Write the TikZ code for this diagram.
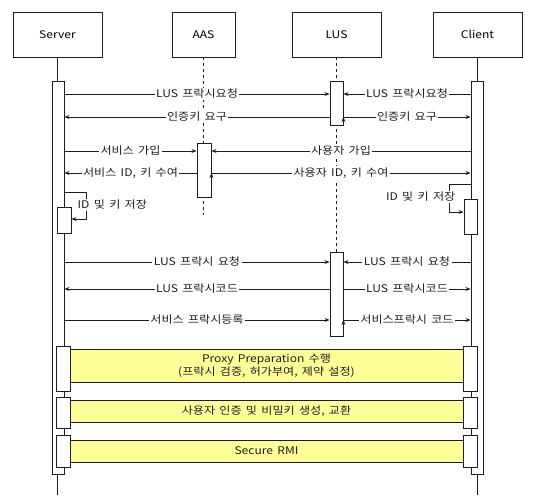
\documentclass[tikz,border=0pt]{standalone}
\usepackage{fontspec}
\setmainfont[FakeStretch=1.15, WordSpace=1.6]{Noto Sans CJK KR}
\usepackage{tikz}
\usetikzlibrary{
    positioning,
    arrows.meta
}
\definecolor{banda}{RGB}{255,255,153}
\definecolor{linea}{RGB}{30,30,30}
\tikzset{
    >={Stealth[length=5pt,width=4pt]},
    objeto/.style={
        draw=linea,
        line width=0.9pt,
        minimum height=45,
        inner sep=0pt,
        font=\fontsize{10.5}{12}\selectfont
    },
    activo/.style={
        draw=linea,
        line width=0.9pt,
        fill=white,
        inner sep=0pt
    },
    msj/.style={
        ->,
        draw=linea,
        line width=0.8pt
    },
    etiq/.style={
        fill=white,
        inner sep=1.5pt,
        text=linea,
        font=\fontsize{10.5}{11}\selectfont
    },
    tarea/.style={
        draw=linea,
        line width=0.8pt,
        fill=banda,
        inner sep=0pt,
        minimum width=393,
        align=center,
        text=linea,
        font=\fontsize{10.5}{13}\selectfont
    }
}

\begin{document}
\begin{tikzpicture}[
    x=1pt,
    y=-1pt
]
    \useasboundingbox (0,0) rectangle (534,495);

    % Objetos
    \node[objeto, minimum width=89] (srv) at (57.5,34.5)  {Server};
    \node[objeto, minimum width=63] (aas) at (203.5,34.5) {AAS};
    \node[objeto, minimum width=89] (lus) at (336.5,34.5) {LUS};
    \node[objeto, minimum width=89] (cli) at (477.5,34.5) {Client};

    % Lineas de vida
    \draw[linea, line width=0.8pt] (srv.south) -- (srv.south |- 0,495);
    \draw[linea, line width=0.8pt] (cli.south) -- (cli.south |- 0,495);
    \draw[linea, line width=0.8pt, dashed] (aas.south) -- (aas.south |- 0,215);
    \draw[linea, line width=0.8pt, dashed] (lus.south) -- (lus.south |- 0,336);

    % Activaciones
    \node[activo, minimum width=12, minimum height=393] (sact) at (58,277.5)   {};
    \node[activo, minimum width=12, minimum height=393] (cact) at (477,277.5)  {};
    \node[activo, minimum width=13, minimum height=44]  (lus1) at (336.5,103)  {};
    \node[activo, minimum width=13, minimum height=84]  (lus2) at (336.5,294)  {};
    \node[activo, minimum width=14, minimum height=54]  (aasa) at (204,170)    {};
    \node[activo, minimum width=14, minimum height=26]  (sguar) at (64,220)    {};
    \node[activo, minimum width=13, minimum height=35]  (cguar) at (470.5,216.5) {};

    % Alturas de los mensajes
    \coordinate (m1) at (0,94);
    \coordinate (m2) at (0,117);
    \coordinate (m3) at (0,151);
    \coordinate (m4) at (0,173);
    \coordinate (m5) at (0,262);
    \coordinate (m6) at (0,289);
    \coordinate (m7) at (0,320);

    % Registro en el LUS
    \path[msj]
        (sact.east |- m1) edge node[etiq] {LUS 프락시요청} (lus1.west |- m1)
        (cact.west |- m1) edge node[etiq] {LUS 프락시요청} (lus1.east |- m1)
        (lus1.west |- m2) edge node[etiq] {인증키 요구} (sact.east |- m2)
        (lus1.east |- m2) edge node[etiq] {인증키 요구} (cact.west |- m2);

    % Registro en el AAS
    \path[msj]
        (sact.east |- m3) edge node[etiq] {서비스 가입} (aasa.west |- m3)
        (cact.west |- m3) edge node[etiq] {사용자 가입} (aasa.east |- m3)
        (aasa.west |- m4) edge node[etiq] {서비스 ID, 키 수여} (sact.east |- m4)
        (aasa.east |- m4) edge node[etiq] {사용자 ID, 키 수여} (cact.west |- m4);

    % Guardar ID y clave
    \coordinate (sbucle) at (86,192);
    \coordinate (cbucle) at (449,184);
    \draw[msj] (sact.east |- sbucle) -- (sbucle) |- (sguar.east |- 0,219);
    \draw[msj] (cact.west |- cbucle) -- (cbucle) |- (cguar.west |- 0,212);
    \node[etiq, anchor=west] (sguarl) at (76,205)  {ID 및 키 저장};
    \node[etiq, anchor=east] (cguarl) at (457,197) {ID 및 키 저장};

    % Proxy
    \path[msj]
        (sact.east |- m5) edge node[etiq] {LUS 프락시 요청} (lus2.west |- m5)
        (cact.west |- m5) edge node[etiq] {LUS 프락시 요청} (lus2.east |- m5)
        (lus2.west |- m6) edge node[etiq] {LUS 프락시코드} (sact.east |- m6)
        (lus2.east |- m6) edge node[etiq] {LUS 프락시코드} (cact.west |- m6)
        (sact.east |- m7) edge node[etiq] {서비스 프락시등록} (lus2.west |- m7)
        (lus2.east |- m7) edge node[etiq] {서비스프락시 코드} (cact.west |- m7);

    % Fases finales
    \foreach \n/\y/\h in {1/368.5/45, 2/412.5/31, 3/451/32} {
        \node[activo, minimum width=14, minimum height=\h] (sf\n) at (63,\y)  {};
        \node[activo, minimum width=14, minimum height=\h] (cf\n) at (470,\y) {};
    }
    \node[tarea, minimum height=33] (t1) at (266.5,365.5)
        {Proxy Preparation 수행\\(프락시 검증, 허가부여, 제약 설정)};
    \node[tarea, minimum height=22] (t2) at (266.5,411)
        {사용자 인증 및 비밀키 생성, 교환};
    \node[tarea, minimum height=22] (t3) at (266.5,451)
        {Secure RMI};

\end{tikzpicture}
\end{document}
